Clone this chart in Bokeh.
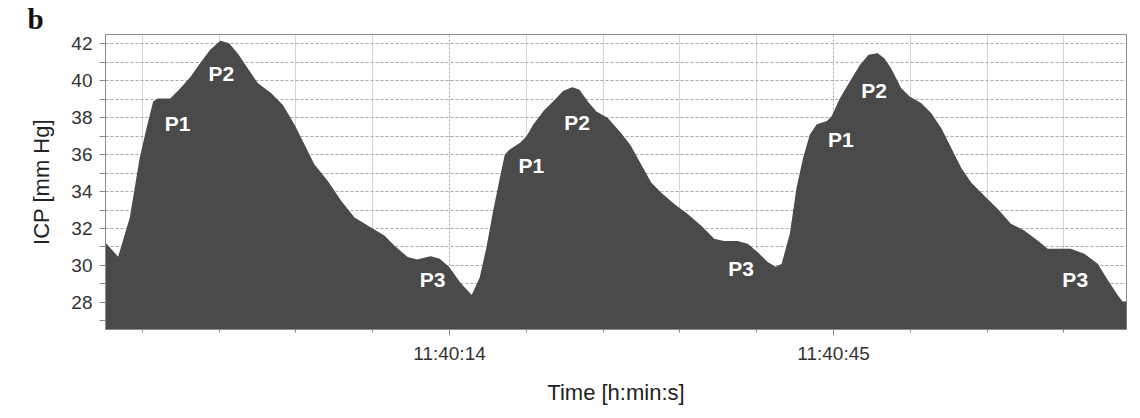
from bokeh.plotting import figure
from bokeh.models import Range1d, FixedTicker, ColumnDataSource
from bokeh.embed import file_html
from bokeh.resources import INLINE
from bokeh.core.properties import value

# time in seconds after 11:40:00
TIME_S = [-13.77, -12.72, -11.75, -10.95, -10.40, -9.87, -9.55, -8.52, -7.72, -6.91,
          -6.10, -5.29, -4.49, -3.82, -3.14, -2.33, -1.52, -0.45, 0.49, 1.43,
          2.24, 3.04, 4.13, 5.20, 6.27, 7.36, 8.70, 9.50, 10.59, 11.39,
          12.47, 13.14, 13.94, 14.89, 15.70, 15.83, 16.50, 17.04, 17.58, 18.12,
          18.52, 18.92, 19.73, 20.27, 20.81, 21.61, 22.42, 23.23, 23.91, 24.44,
          25.12, 25.79, 26.73, 27.80, 28.61, 29.42, 30.23, 31.03, 32.11, 33.19,
          34.26, 35.34, 36.14, 37.23, 38.03, 38.84, 39.65, 40.32, 40.86, 41.53,
          42.07, 42.60, 43.14, 43.68, 44.49, 44.89, 45.57, 46.37, 47.18, 47.85,
          48.53, 49.06, 49.60, 50.41, 51.08, 52.02, 52.83, 53.64, 54.45, 55.25,
          56.06, 57.13, 58.22, 59.29, 60.36, 61.44, 62.25, 63.06, 64.13, 65.21,
          66.29, 67.10, 67.90, 68.31, 68.65]
ICP = [31.18, 30.39, 32.58, 35.81, 37.42, 38.86, 39.00, 39.00, 39.54, 40.15,
       40.92, 41.64, 42.13, 42.00, 41.46, 40.65, 39.85, 39.31, 38.68, 37.61,
       36.53, 35.45, 34.55, 33.48, 32.58, 32.13, 31.59, 31.05, 30.42, 30.28,
       30.46, 30.34, 29.88, 28.99, 28.41, 28.36, 29.35, 30.96, 32.94, 34.73,
       35.99, 36.26, 36.61, 36.98, 37.61, 38.32, 38.86, 39.43, 39.61, 39.49,
       38.86, 38.32, 37.96, 37.15, 36.44, 35.45, 34.47, 33.92, 33.30, 32.76,
       32.13, 31.41, 31.28, 31.28, 31.14, 30.69, 30.15, 29.88, 30.06, 31.70,
       34.19, 35.81, 37.07, 37.61, 37.78, 38.05, 39.04, 39.94, 40.83, 41.37,
       41.46, 41.19, 40.65, 39.58, 39.13, 38.77, 38.23, 37.42, 36.35, 35.27,
       34.47, 33.75, 33.03, 32.22, 31.86, 31.32, 30.87, 30.87, 30.87, 30.60,
       30.06, 29.17, 28.36, 28.00, 28.00]

X_TICKS = [14, 45]
X_TICK_LABELS = ["11:40:14", "11:40:45"]
X_GRID = [-10.8, -4.6, 1.6, 7.8, 20.2, 26.4, 32.6, 38.8, 51.2, 57.4, 63.6]
Y_TICKS = [28, 30, 32, 34, 36, 38, 40, 42]
Y_MINOR = [27, 29, 31, 33, 35, 37, 39, 41]

PEAK_TEXT = ["P1", "P2", "P3", "P1", "P2", "P3", "P1", "P2", "P3"]
PEAK_T = [-7.96, -4.41, 12.63, 20.60, 24.29, 37.53, 45.59, 48.27, 64.51]
PEAK_V = [37.68, 40.40, 29.25, 35.41, 37.76, 29.81, 36.84, 39.45, 29.24]

PANEL_LETTER = "b"

X_START, X_END = -13.77, 68.65
Y_START, Y_END = 26.53, 42.51

FONT = "Liberation Sans"

p = figure(width=1138, height=410, output_backend="svg", toolbar_location=None,
           x_range=Range1d(X_START, X_END), y_range=Range1d(Y_START, Y_END),
           min_border_left=105, min_border_right=12, min_border_top=32, min_border_bottom=81)
p.background_fill_color = "white"
p.border_fill_color = "white"
p.outline_line_color = "#8a8a8a"
p.outline_line_width = 1

# panel letter as title
p.title.text = PANEL_LETTER
p.title.align = "left"
p.title.offset = -78
p.title.standoff = 0
p.title.text_font = "Liberation Serif"
p.title.text_font_style = "bold"
p.title.text_font_size = "29px"
p.title.text_color = "#111111"

src = ColumnDataSource(dict(t=TIME_S, icp=ICP))
p.varea(x="t", y1=Y_START, y2="icp", source=src, fill_color="#4a4a4a")
p.line(x="t", y="icp", source=src, line_color="#4a4a4a", line_width=1.5)

lab = ColumnDataSource(dict(t=PEAK_T, v=PEAK_V, s=PEAK_TEXT))
p.text(x="t", y="v", text="s", source=lab, text_color="white",
       text_font=value(FONT), text_font_style="bold", text_font_size="21px",
       text_align="center", text_baseline="middle")

# axes
p.yaxis.ticker = FixedTicker(ticks=Y_TICKS, minor_ticks=Y_MINOR)
p.xaxis.ticker = FixedTicker(ticks=X_TICKS, minor_ticks=X_GRID)
p.xaxis.major_label_overrides = {t: s for t, s in zip(X_TICKS, X_TICK_LABELS)}

for ax in (p.xaxis[0], p.yaxis[0]):
    ax.axis_line_color = "#8a8a8a"
    ax.major_tick_line_color = "#8a8a8a"
    ax.minor_tick_line_color = "#8a8a8a"
    ax.major_tick_in = 0
    ax.minor_tick_in = 0
    ax.major_label_text_font = FONT
    ax.major_label_text_color = "#333333"
    ax.axis_label_text_font = FONT
    ax.axis_label_text_font_style = "normal"
    ax.axis_label_text_color = "#222222"

p.yaxis.major_tick_out = 6
p.yaxis.minor_tick_out = 6
p.yaxis.major_label_standoff = 7
p.yaxis.major_label_text_font_size = "19px"
p.yaxis.axis_label = "ICP [mm Hg]"
p.yaxis.axis_label_text_font_size = "22px"
p.yaxis.axis_label_standoff = 14

p.xaxis.major_tick_out = 6
p.xaxis.minor_tick_out = 3
p.xaxis.major_label_standoff = 7
p.xaxis.major_label_text_font_size = "19px"
p.xaxis.axis_label = "Time [h:min:s]"
p.xaxis.axis_label_text_font_size = "22px"
p.xaxis.axis_label_standoff = 13

# grids
p.ygrid.ticker = FixedTicker(ticks=Y_TICKS, minor_ticks=Y_MINOR)
p.ygrid.grid_line_color = "#a8a8a8"
p.ygrid.grid_line_dash = "3 2"
p.ygrid.minor_grid_line_color = "#a8a8a8"
p.ygrid.minor_grid_line_dash = "3 2"

p.xgrid.ticker = FixedTicker(ticks=X_TICKS, minor_ticks=X_GRID)
p.xgrid.grid_line_color = "#a0a0a0"
p.xgrid.grid_line_dash = "2 2"
p.xgrid.minor_grid_line_color = "#d4d4d4"

open("out.html", "w").write(file_html(p, INLINE))
